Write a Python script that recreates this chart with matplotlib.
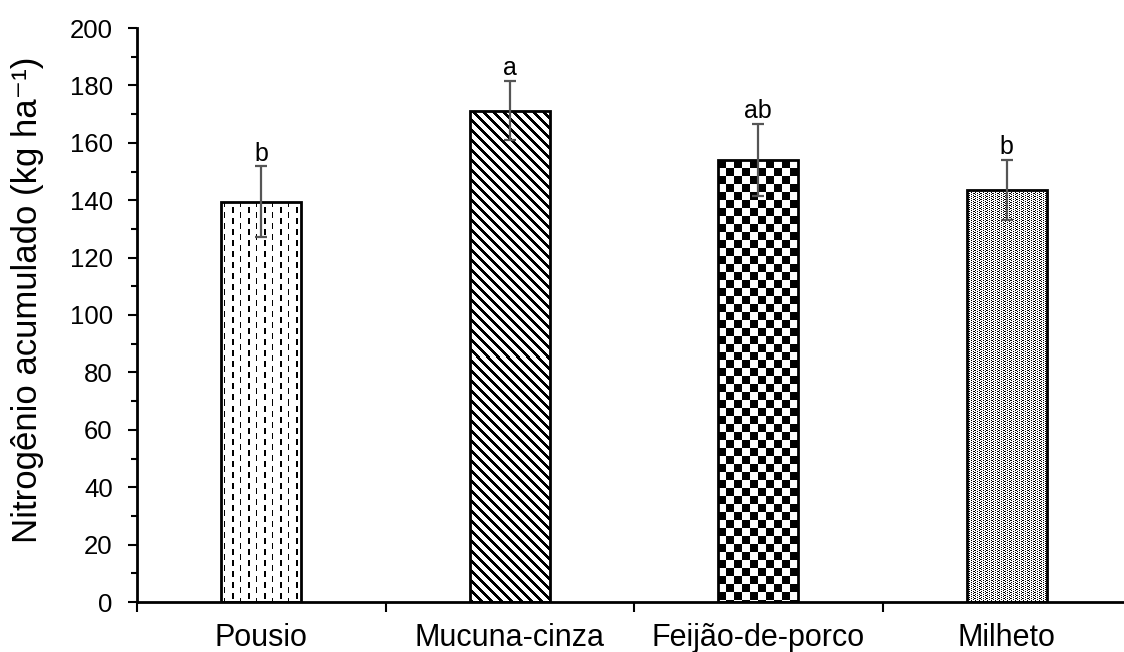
import numpy as np
import matplotlib.pyplot as plt

plt.rcParams['font.family'] = ['Liberation Sans', 'DejaVu Sans']

# dados
tratamentos = ['Pousio', 'Mucuna-cinza', 'Feijão-de-porco', 'Milheto']
n_acumulado = [139.5, 171.2, 154.0, 143.5]
erro = [12.3, 10.3, 12.5, 10.5]
letras = ['b', 'a', 'ab', 'b']
padroes = ['tracejado', 'diagonal', 'xadrez', 'pontilhado']


def textura(tipo, w, h):
    # mascara booleana (True = preto) em pixels
    xx, yy = np.meshgrid(np.arange(w), np.arange(h))
    if tipo == 'tracejado':
        grupo = (xx // 8) % 2
        coluna = np.where(grupo == 1, (xx % 8 >= 3) & (xx % 8 <= 4), xx % 8 == 3)
        off = grupo * 5
        return coluna & (((yy + off) % 11) < 6)
    if tipo == 'diagonal':
        return ((xx - yy) % 10) < 4
    if tipo == 'xadrez':
        return ((xx // 8 + yy // 8) % 2) == 0
    # pontilhado fino
    return ((xx % 2 == 0) & ((yy + (xx // 2)) % 2 == 0)) | ((xx % 6 == 1) & (yy % 3 == 0))


fig = plt.figure(figsize=(11.24, 6.52), dpi=100)
ax = fig.add_axes([137 / 1124, 50 / 652, (1131 - 137) / 1124, 574 / 652])

x = np.arange(len(tratamentos))
largura = 0.32
ax.set_xlim(-0.5, 3.5)
ax.set_ylim(0, 200)

barras = ax.bar(x, n_acumulado, largura, color='white', edgecolor='none', zorder=2)

for xi, v, tipo, barra in zip(x, n_acumulado, padroes, barras):
    x0 = xi - largura / 2
    p0 = ax.transData.transform((x0, 0))
    p1 = ax.transData.transform((x0 + largura, v))
    w = int(round(p1[0] - p0[0]))
    h = int(round(p1[1] - p0[1]))
    img = textura(tipo, w, h).astype(float)
    im = ax.imshow(img, extent=(x0, x0 + largura, 0, v), origin='upper', cmap='gray_r',
                   vmin=0, vmax=1, interpolation='nearest', aspect='auto', zorder=2.5)
    im.set_clip_path(barra)

ax.bar(x, n_acumulado, largura, fill=False, edgecolor='black', linewidth=2, zorder=3)
ax.errorbar(x, n_acumulado, yerr=erro, fmt='none', ecolor='#555555',
            elinewidth=1.6, capsize=4, capthick=1.6, zorder=4)

for xi, v, e, letra in zip(x, n_acumulado, erro, letras):
    ax.text(xi, v + e + 2.0, letra, ha='center', va='baseline', fontsize=18)

ax.set_xlim(-0.5, 3.5)
ax.set_ylim(0, 200)

ax.set_yticks(np.arange(0, 201, 20))
ax.set_yticks(np.arange(0, 201, 10), minor=True)
ax.set_xticks(np.arange(-0.5, 4, 1), [''] * 5)
ax.set_xticks(x, tratamentos, minor=True)

ax.tick_params(axis='y', which='major', direction='out', length=6.5, width=1.5,
               labelsize=18.5, pad=11)
ax.tick_params(axis='y', which='minor', direction='out', length=4.3, width=1.5)
ax.tick_params(axis='x', which='major', direction='out', length=7, width=1.5)
ax.tick_params(axis='x', which='minor', length=0, labelsize=22, pad=15)

ax.set_ylabel('Nitrogênio acumulado (kg ha⁻¹)', fontsize=25)
ax.yaxis.set_label_coords(-0.094, 0.526)

for lado in ['top', 'right']:
    ax.spines[lado].set_visible(False)
for lado in ['left', 'bottom']:
    ax.spines[lado].set_linewidth(2)

fig.savefig('out.png', dpi=100)
